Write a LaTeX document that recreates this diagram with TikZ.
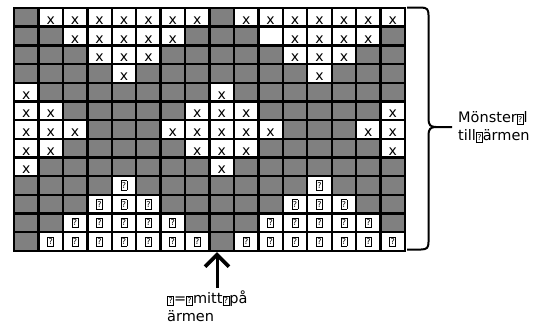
\documentclass[tikz,border=0pt]{standalone}
\usepackage{fontspec}
\setmainfont{DejaVu Sans}
\usetikzlibrary{arrows.meta}
\definecolor{cellgray}{RGB}{128,128,128}
\newcommand{\qmark}{{\setlength{\fboxsep}{0.5pt}\setlength{\fboxrule}{0.8pt}\fbox{\rule[-1pt]{0pt}{7.6pt}\fontsize{8}{8}\selectfont ?}}}
\begin{document}
\begin{tikzpicture}[x=1pt,y=-1pt,
  cellbase/.style={draw=black,line width=2.4pt,minimum width=24.44pt,minimum height=18.69pt,inner sep=0pt,font=\fontsize{14}{14}\selectfont},
  cellg/.style={cellbase,fill=cellgray,node contents={}},
  cellw/.style={cellbase,fill=white,node contents={}},
  cellx/.style={cellbase,fill=white,text height=14pt,text depth=0pt,node contents={x}},
  cellq/.style={cellbase,fill=white,node contents={\qmark}},
  lbl/.style={font=\fontsize{14.5}{18}\selectfont,align=left,inner sep=0pt},
  bracestyle/.style={line width=2pt},
  arrowstyle/.style={line width=3pt,-{Straight Barb[length=12pt,width=24pt,line width=3.6pt]}}]
\useasboundingbox (0,0) rectangle (554,325);
\foreach \row [count=\r] in {
  {g,x,x,x,x,x,x,x,g,x,x,x,x,x,x,x},
  {g,g,x,x,x,x,x,g,g,g,w,x,x,x,x,g},
  {g,g,g,x,x,x,g,g,g,g,g,x,x,x,g,g},
  {g,g,g,g,x,g,g,g,g,g,g,g,x,g,g,g},
  {x,g,g,g,g,g,g,g,x,g,g,g,g,g,g,g},
  {x,x,g,g,g,g,g,x,x,x,g,g,g,g,g,x},
  {x,x,x,g,g,g,x,x,x,x,x,g,g,g,x,x},
  {x,x,g,g,g,g,g,x,x,x,g,g,g,g,g,x},
  {x,g,g,g,g,g,g,g,x,g,g,g,g,g,g,g},
  {g,g,g,g,q,g,g,g,g,g,g,g,q,g,g,g},
  {g,g,g,q,q,q,g,g,g,g,g,q,q,q,g,g},
  {g,g,q,q,q,q,q,g,g,g,q,q,q,q,q,g},
  {g,q,q,q,q,q,q,q,g,q,q,q,q,q,q,q}}
{
  \foreach \t [count=\c] in \row {
    \node[cell\t,name=c-\r-\c,at={({14+(\c-0.5)*24.44},{8+(\r-0.5)*18.69})}];
  }
}
% brace
\draw[bracestyle] (407,7.5) -- (421,7.5) .. controls (427,7.5) and (428.5,9.5) .. (428.5,15) -- (428.5,119) .. controls (428.5,125) and (430.5,127) .. (436,127) -- (452,127);
\draw[bracestyle] (407,249.5) -- (421,249.5) .. controls (427,249.5) and (428.5,247.5) .. (428.5,242) -- (428.5,135) .. controls (428.5,129) and (430.5,127) .. (436,127);
\coordinate (bracetip) at (452,127);
\node[lbl,anchor=west] (mlabel) at ([xshift=6pt]bracetip) {Mönster\qmark l\\till\qmark ärmen};
% arrow
\coordinate (arrtail) at (217,288);
\draw[arrowstyle] (arrtail) -- (arrtail |- c-13-9.south);
\node[lbl,anchor=north west] (alabel) at (167,291) {\qmark=\qmark mitt\qmark på\\ärmen};
\end{tikzpicture}
\end{document}
